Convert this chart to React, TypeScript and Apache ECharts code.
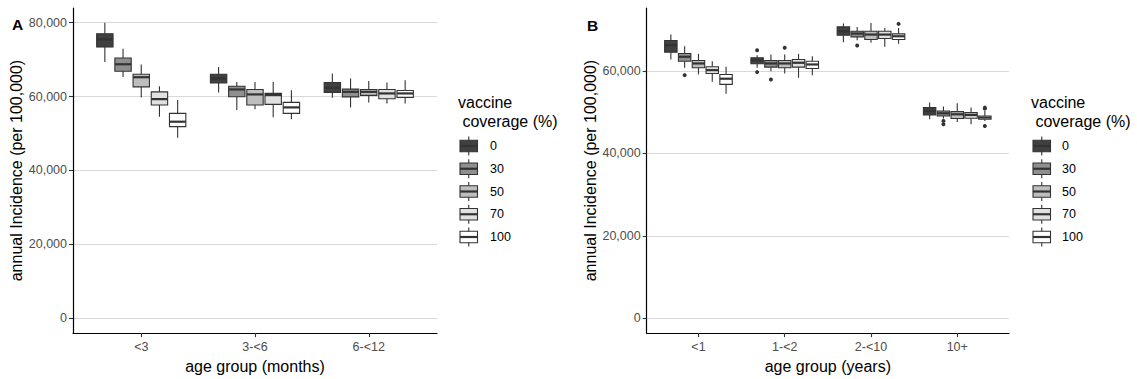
import React, { useEffect, useRef } from 'react';
import * as echarts from 'echarts';

// ---------- data ----------
const coverageLevels = ['0', '30', '50', '70', '100'];
const coverageFills = ['#404040', '#8f8f8f', '#bebebe', '#e1e1e1', '#ffffff'];

const ageGroupsMonths = ['<3', '3-<6', '6-<12'];
const ageGroupsYears = ['<1', '1-<2', '2-<10', '10+'];

const yTicksMonths = [0, 20000, 40000, 60000, 80000];
const yTicksYears = [0, 20000, 40000, 60000];

// [lower whisker, Q1, median, Q3, upper whisker] for each age group (months panel)
const monthsCov0 = [[69350, 73380, 75450, 77000, 79950], [61100, 63690, 64870, 66030, 68000], [59660, 61110, 62350, 63800, 66220]];
const monthsCov30 = [[65310, 66840, 68730, 70430, 72950], [56340, 59920, 61910, 62800, 63960], [57060, 59920, 61270, 62000, 64870]];
const monthsCov50 = [[59760, 62620, 65220, 66030, 68640], [56530, 57690, 60570, 61910, 63960], [58410, 60300, 61270, 61910, 64230]];
const monthsCov70 = [[54540, 57690, 59300, 61270, 62800], [54380, 57870, 60380, 60840, 63960], [58140, 59380, 60840, 61910, 63800]];
const monthsCov100 = [[48880, 51850, 53190, 55450, 59030], [53840, 55450, 57060, 58410, 61730], [58140, 59760, 60840, 61640, 64420]];

// [lower whisker, Q1, median, Q3, upper whisker] for each age group (years panel)
const yearsCov0 = [[62800, 64560, 66250, 67390, 68840], [60790, 61750, 62560, 63210, 63830], [66980, 68670, 69640, 70700, 71500], [48290, 49330, 50300, 51120, 52330]];
const yearsCov30 = [[60790, 62380, 63450, 64250, 66010], [59970, 60940, 61830, 62560, 64000], [67460, 68280, 69080, 69640, 70700], [48500, 49090, 49740, 50300, 51360]];
const yearsCov50 = [[59170, 60790, 61830, 62560, 64170], [59410, 60790, 61830, 62560, 64000], [66830, 67630, 68840, 69640, 71670], [47630, 48460, 49500, 50150, 52150]];
const yearsCov70 = [[57400, 59410, 60210, 61030, 62380], [58370, 60940, 62000, 62800, 64170], [65870, 67870, 68840, 69640, 70460], [47080, 48530, 49330, 49910, 51120]];
const yearsCov100 = [[54500, 56750, 58130, 59170, 61030], [59000, 60620, 61590, 62380, 63590], [66590, 67630, 68430, 69010, 70460], [47880, 48290, 48700, 49090, 50300]];

// outliers: [age group, value] (years panel)
const yearsOut0: [string, number][] = [['1-<2', 65050], ['1-<2', 59730]];
const yearsOut30: [string, number][] = [['<1', 59000], ['1-<2', 57960], ['2-<10', 66180], ['10+', 47900], ['10+', 47100]];
const yearsOut50: [string, number][] = [['1-<2', 65620]];
const yearsOut70: [string, number][] = [];
const yearsOut100: [string, number][] = [['2-<10', 71430], ['10+', 51120], ['10+', 50870], ['10+', 46670]];

const monthsBoxes = [monthsCov0, monthsCov30, monthsCov50, monthsCov70, monthsCov100];
const yearsBoxes = [yearsCov0, yearsCov30, yearsCov50, yearsCov70, yearsCov100];
const yearsOutliers = [yearsOut0, yearsOut30, yearsOut50, yearsOut70, yearsOut100];

// ---------- style ----------
const FONT = '"Liberation Sans", Arial, Helvetica, sans-serif';
const BOX_STROKE = '#333333';
const DODGE = 0.16;
const BOX_W = 0.144;

function boxSeries(panel: number, s: number, boxes: number[][]) {
  return {
    type: 'custom',
    name: coverageLevels[s],
    xAxisIndex: panel,
    yAxisIndex: panel,
    encode: { x: 0, y: [1, 2, 3, 4, 5] },
    data: boxes.map((b, i) => [i + 1, ...b]),
    z: 3,
    renderItem: (params: any, api: any) => {
      const cat = api.value(0);
      const unit = api.size([1, 0])[0];
      const cx = api.coord([cat, 0])[0] + (s - 2) * DODGE * unit;
      const hw = (BOX_W * unit) / 2;
      const yLo = api.coord([cat, api.value(1)])[1];
      const yQ1 = api.coord([cat, api.value(2)])[1];
      const yMed = api.coord([cat, api.value(3)])[1];
      const yQ3 = api.coord([cat, api.value(4)])[1];
      const yHi = api.coord([cat, api.value(5)])[1];
      const thin = { stroke: BOX_STROKE, lineWidth: 1.1 };
      return {
        type: 'group',
        children: [
          { type: 'line', shape: { x1: cx, y1: yHi, x2: cx, y2: yQ3 }, style: thin },
          { type: 'line', shape: { x1: cx, y1: yQ1, x2: cx, y2: yLo }, style: thin },
          {
            type: 'rect',
            shape: { x: cx - hw, y: yQ3, width: hw * 2, height: yQ1 - yQ3 },
            style: { fill: coverageFills[s], stroke: BOX_STROKE, lineWidth: 1.1 },
          },
          { type: 'line', shape: { x1: cx - hw, y1: yMed, x2: cx + hw, y2: yMed }, style: { stroke: BOX_STROKE, lineWidth: 2.2 } },
        ],
      };
    },
  };
}

function outlierSeries(panel: number, s: number, groups: string[], pts: [string, number][]) {
  return {
    type: 'custom',
    name: coverageLevels[s] + ' outliers',
    xAxisIndex: panel,
    yAxisIndex: panel,
    encode: { x: 0, y: 1 },
    data: pts.map(([g, v]) => [groups.indexOf(g) + 1, v]),
    z: 4,
    renderItem: (params: any, api: any) => {
      const cat = api.value(0);
      const unit = api.size([1, 0])[0];
      const p = api.coord([cat, api.value(1)]);
      return {
        type: 'circle',
        shape: { cx: p[0] + (s - 2) * DODGE * unit, cy: p[1], r: 2 },
        style: { fill: BOX_STROKE },
      };
    },
  };
}

function xAxisDef(grid: number, groups: string[], name: string) {
  return {
    gridIndex: grid,
    type: 'value',
    min: 0.4,
    max: groups.length + 0.6,
    name,
    nameLocation: 'middle',
    nameGap: 20,
    nameTextStyle: { fontSize: 16, color: '#000', fontFamily: FONT, verticalAlign: 'top' },
    axisLine: { show: true, onZero: false, lineStyle: { color: '#000', width: 1.2 } },
    axisTick: { show: true, length: 4, customValues: groups.map((_, i) => i + 1), lineStyle: { color: '#333', width: 1.1 } },
    axisLabel: {
      customValues: groups.map((_, i) => i + 1),
      formatter: (v: number) => groups[Math.round(v) - 1] ?? '',
      fontSize: 12.5,
      color: '#4d4d4d',
      fontFamily: FONT,
      margin: 7,
    },
    splitLine: { show: false },
  };
}

function yAxisDef(grid: number, min: number, max: number, ticks: number[]) {
  return {
    gridIndex: grid,
    type: 'value',
    min,
    max,
    name: 'annual Incidence (per 100,000)',
    nameLocation: 'middle',
    nameGap: 47,
    nameTextStyle: { fontSize: 16, color: '#000', fontFamily: FONT },
    axisLine: { show: true, onZero: false, lineStyle: { color: '#000', width: 1.2 } },
    axisTick: { show: true, length: 4, customValues: ticks, lineStyle: { color: '#333', width: 1.1 } },
    axisLabel: {
      customValues: ticks,
      formatter: (v: number) => v.toLocaleString('en-US'),
      fontSize: 12.5,
      color: '#4d4d4d',
      fontFamily: FONT,
      margin: 6,
    },
    splitLine: { show: true, lineStyle: { color: '#d9d9d9', width: 1.1 } },
  };
}

function legendGraphics(left: number, labelX: number) {
  const children: any[] = [
    { type: 'text', left: left, top: 94, style: { text: 'vaccine', fontSize: 16, fill: '#000', fontFamily: FONT } },
    { type: 'text', left: left, top: 113, style: { text: ' coverage (%)', fontSize: 16, fill: '#000', fontFamily: FONT } },
  ];
  const rowStart = 146;
  const rowStep = 22.75;
  coverageLevels.forEach((lvl, i) => {
    const cy = rowStart + i * rowStep;
    const bx = left + 2;
    const bw = 17.5;
    const cx = bx + bw / 2;
    children.push(
      { type: 'line', shape: { x1: cx, y1: cy - 9.5, x2: cx, y2: cy + 9.5 }, style: { stroke: BOX_STROKE, lineWidth: 1.1 } },
      { type: 'rect', shape: { x: bx, y: cy - 5.75, width: bw, height: 11.5 }, style: { fill: coverageFills[i], stroke: BOX_STROKE, lineWidth: 1.1 } },
      { type: 'line', shape: { x1: bx, y1: cy, x2: bx + bw, y2: cy }, style: { stroke: BOX_STROKE, lineWidth: 2.2 } },
      { type: 'text', x: labelX, y: cy, style: { text: lvl, fontSize: 12.5, fill: '#000', fontFamily: FONT, verticalAlign: 'middle' } }
    );
  });
  return { type: 'group', children };
}

export default function App() {
  const ref = useRef<HTMLDivElement>(null);
  useEffect(() => {
    if (!ref.current) return;
    const chart = echarts.init(ref.current, undefined, { renderer: 'svg' });
    const series: any[] = [];
    monthsBoxes.forEach((b, s) => series.push(boxSeries(0, s, b)));
    yearsBoxes.forEach((b, s) => series.push(boxSeries(1, s, b)));
    yearsOutliers.forEach((o, s) => series.push(outlierSeries(1, s, ageGroupsYears, o)));
    chart.setOption({
      animation: false,
      backgroundColor: '#ffffff',
      textStyle: { fontFamily: FONT },
      grid: [
        { left: 73, top: 8, width: 364, height: 326 },
        { left: 646.7, top: 8, width: 362.3, height: 326 },
      ],
      xAxis: [xAxisDef(0, ageGroupsMonths, 'age group (months)'), xAxisDef(1, ageGroupsYears, 'age group (years)')],
      yAxis: [yAxisDef(0, -4000, 83950, yTicksMonths), yAxisDef(1, -3585, 75285, yTicksYears)],
      series,
      graphic: [
        { type: 'text', left: 12, top: 16, style: { text: 'A', fontSize: 15.5, fontWeight: 'bold', fill: '#000', fontFamily: FONT } },
        { type: 'text', left: 587, top: 17, style: { text: 'B', fontSize: 15.5, fontWeight: 'bold', fill: '#000', fontFamily: FONT } },
        legendGraphics(458, 490),
        legendGraphics(1031, 1062),
      ],
    });
    return () => chart.dispose();
  }, []);
  return <div ref={ref} style={{ position: 'fixed', left: 0, top: 0, width: 1137, height: 379, background: '#fff' }} />;
}
